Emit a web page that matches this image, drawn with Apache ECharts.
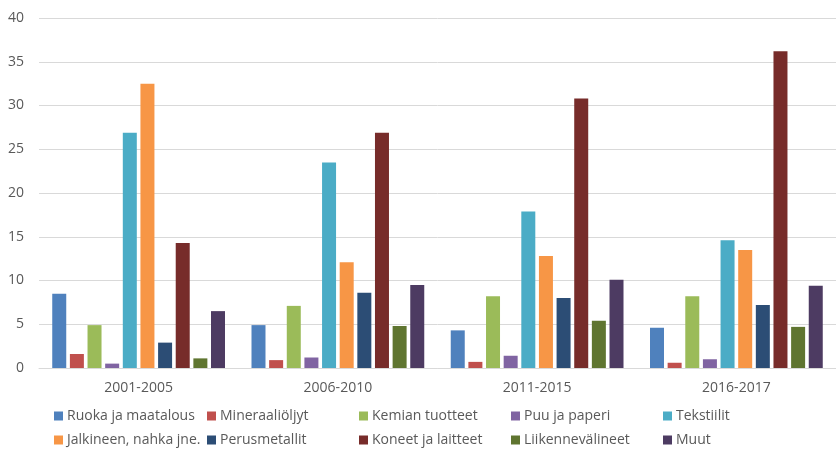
<!DOCTYPE html>
<html>
<head>
<meta charset="utf-8">
<style>
  html, body { margin: 0; padding: 0; background: #ffffff; }
  #chart { width: 836px; height: 449px; }
</style>
<script src="https://cdn.jsdelivr.net/npm/echarts@6/dist/echarts.min.js"></script>
</head>
<body>
<div id="chart"></div>
<script>
// Periods on the category axis
const periods = ['2001-2005', '2006-2010', '2011-2015', '2016-2017'];

// Product groups (one bar series each)
const seriesNames = [
  'Ruoka ja maatalous', 'Mineraaliöljyt', 'Kemian tuotteet', 'Puu ja paperi', 'Tekstiilit',
  'Jalkineen, nahka jne.', 'Perusmetallit', 'Koneet ja laitteet', 'Liikennevälineet', 'Muut'
];

// Shares per period, in the same order as the periods
const ruoka        = [8.5, 4.9, 4.3, 4.6];
const mineraali    = [1.6, 0.9, 0.7, 0.6];
const kemia        = [4.9, 7.1, 8.2, 8.2];
const puu          = [0.5, 1.2, 1.4, 1.0];
const tekstiilit   = [26.9, 23.5, 17.9, 14.6];
const jalkineet    = [32.5, 12.1, 12.8, 13.5];
const perusmetalli = [2.9, 8.6, 8.0, 7.2];
const koneet       = [14.3, 26.9, 30.8, 36.2];
const liikenne     = [1.1, 4.8, 5.4, 4.7];
const muut         = [6.5, 9.5, 10.1, 9.4];

// Value axis ticks
const yMin = 0, yMax = 40, yStep = 5;

const seriesData = [ruoka, mineraali, kemia, puu, tekstiilit, jalkineet, perusmetalli, koneet, liikenne, muut];
const colors = ['#4F81BD', '#C0504D', '#9BBB59', '#8064A2', '#4BACC6',
                '#F79646', '#2C4D75', '#772C2A', '#5F7530', '#4D3B62'];

const FONT = '"Open Sans", "Liberation Sans", sans-serif';
const TEXT = '#595959';

// Legend laid out as a 5 x 2 grid with fixed column positions
const legendCols = [54, 207, 359, 511, 663];
const legendRows = [409, 433];
const legends = seriesNames.map((name, i) => ({
  data: [name],
  left: legendCols[i % 5],
  top: legendRows[Math.floor(i / 5)],
  padding: 0,
  itemWidth: 9,
  itemHeight: 9,
  icon: 'rect',
  selectedMode: false,
  textStyle: { fontFamily: FONT, fontSize: 14, color: TEXT, padding: [0, 0, 0, -1] }
}));

const chart = echarts.init(document.getElementById('chart'), null, { renderer: 'canvas' });
chart.setOption({
  animation: false,
  color: colors,
  legend: legends,
  grid: { left: 39, top: 18, width: 808, height: 350, containLabel: false },
  xAxis: {
    type: 'category',
    data: periods,
    axisTick: { show: false },
    axisLine: { lineStyle: { color: '#d9d9d9', width: 1 } },
    axisLabel: { fontFamily: FONT, fontSize: 14, color: TEXT, margin: 13 }
  },
  yAxis: {
    type: 'value',
    min: yMin,
    max: yMax,
    interval: yStep,
    axisLine: { show: false },
    axisTick: { show: false },
    splitLine: { lineStyle: { color: '#d9d9d9', width: 1 } },
    axisLabel: { fontFamily: FONT, fontSize: 14, color: TEXT, margin: 15 }
  },
  series: seriesNames.map((name, i) => ({
    name: name,
    type: 'bar',
    data: seriesData[i],
    barWidth: 14,
    barGap: '26%',
    itemStyle: { color: colors[i] }
  }))
});
</script>
</body>
</html>
